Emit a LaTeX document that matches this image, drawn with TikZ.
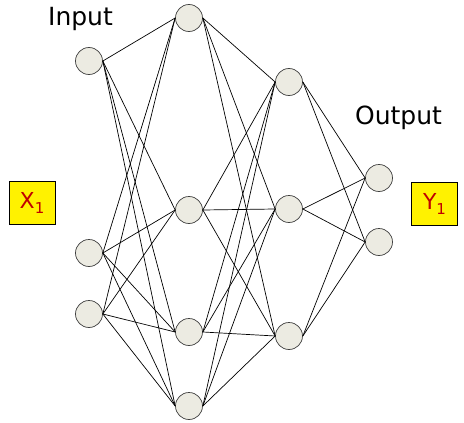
\documentclass[tikz,border=0pt]{standalone}
\usepackage{fontspec}
\usepackage{xcolor}
\newfontfamily\labelfont{DejaVu Sans}
\definecolor{cellfill}{HTML}{ECEBE2}
\definecolor{celldraw}{HTML}{404040}
\definecolor{signaltext}{HTML}{C00000}
\newcommand{\sigsub}[1]{\raisebox{-5pt}{\fontsize{15}{18}\selectfont #1}}

\begin{document}
\begin{tikzpicture}[x=1pt,y=-1pt,
  neuron/.style={circle,draw=celldraw,fill=cellfill,line width=0.7pt,minimum size=27pt,inner sep=0pt},
  signal/.style={draw=black,fill=yellow,line width=0.8pt,minimum width=46pt,minimum height=43pt,inner sep=0pt,text=signaltext,font=\labelfont\fontsize{22}{26}\selectfont},
  title/.style={anchor=base,font=\labelfont\fontsize{25}{30}\selectfont},
  link/.style={black,line width=0.7pt}]
\useasboundingbox (0,0) rectangle (464,423);

% input layer
\node[neuron] (i1) at (89,61) {};
\node[neuron] (i2) at (89,253) {};
\node[neuron] (i3) at (89,314) {};

% first hidden layer
\node[neuron] (ha) at (189,18) {};
\node[neuron] (hb) at (189,210) {};
\node[neuron] (hc) at (189,332) {};
\node[neuron] (hd) at (189,406) {};

% second hidden layer
\node[neuron] (ka) at (289,82) {};
\node[neuron] (kb) at (289,209) {};
\node[neuron] (kc) at (289,336) {};

% output layer
\node[neuron] (o1) at (379,178) {};
\node[neuron] (o2) at (379,242) {};

\foreach \a in {i1,i2,i3}
  \foreach \b in {ha,hb,hc,hd}
    \draw[link] (\a.east) -- (\b.west);
\foreach \a in {ha,hb,hc,hd}
  \foreach \b in {ka,kb,kc}
    \draw[link] (\a.east) -- (\b.west);
\foreach \a in {ka,kb,kc}
  \foreach \b in {o1,o2}
    \draw[link] (\a.east) -- (\b.west);

\node[title] (input) at (80.5,25) {Input};
\node[title] (output) at (398.5,124) {Output};

\node[signal] (x1) at (32,202.5) {X\sigsub{1}};
\node[signal] (y1) at (434.5,203.5) {Y\sigsub{1}};

\end{tikzpicture}
\end{document}
